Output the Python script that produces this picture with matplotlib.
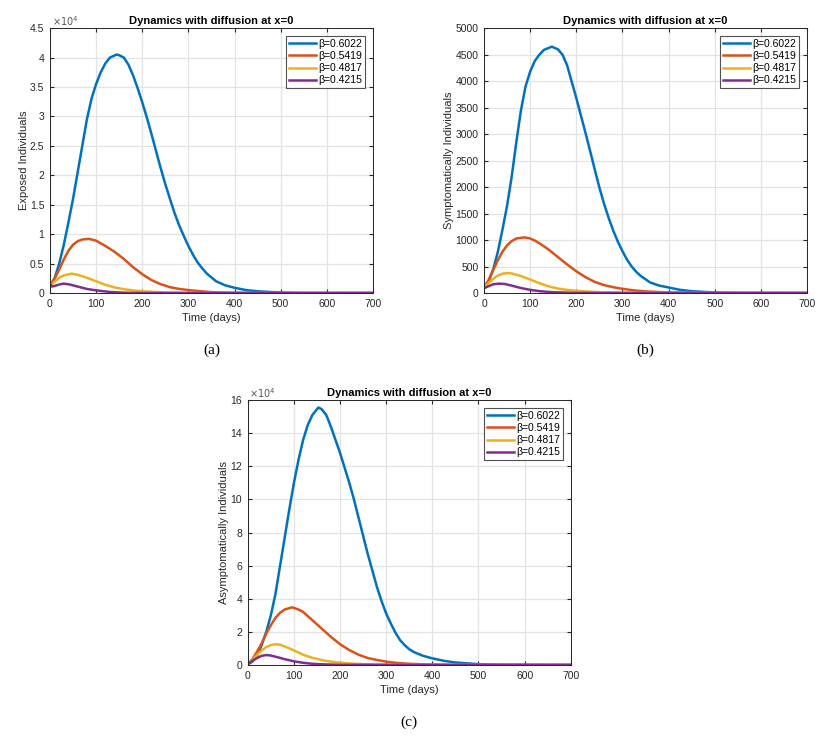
import matplotlib.pyplot as plt
from matplotlib.ticker import FormatStrFormatter

plt.rcParams['font.family'] = ['Liberation Sans', 'DejaVu Sans']

labels = ['β=0.6022', 'β=0.5419', 'β=0.4817', 'β=0.4215']
colors = ['#0072BD', '#D95319', '#EDB120', '#7E2F8E']

# (a) exposed, units of 1e4
ta_blue = [0, 10, 20, 30, 40, 50, 60, 70, 80, 90, 100, 110, 120, 130, 144, 150, 160, 170, 180, 190, 200,
           210, 220, 230, 240, 250, 260, 270, 280, 290, 300, 310, 320, 330, 340, 360, 380, 400, 425, 450,
           500, 550, 700]
ea_blue = [0.12, 0.25, 0.5, 0.82, 1.2, 1.6, 2.05, 2.5, 2.95, 3.3, 3.55, 3.75, 3.9, 4.0, 4.05, 4.04, 4.0,
           3.88, 3.7, 3.48, 3.24, 2.98, 2.7, 2.41, 2.12, 1.85, 1.6, 1.36, 1.15, 0.97, 0.8, 0.65, 0.52,
           0.42, 0.33, 0.2, 0.13, 0.09, 0.05, 0.03, 0.008, 0.0, 0.0]
ta_orange = [0, 10, 20, 30, 40, 50, 60, 70, 85, 100, 120, 140, 160, 180, 200, 220, 240, 260, 280, 300,
             350, 400, 450, 700]
ea_orange = [0.12, 0.24, 0.4, 0.57, 0.72, 0.82, 0.88, 0.91, 0.92, 0.89, 0.8, 0.7, 0.58, 0.44, 0.32,
             0.22, 0.15, 0.1, 0.07, 0.05, 0.015, 0.004, 0.0, 0.0]
ta_yellow = [0, 10, 20, 30, 47, 60, 80, 100, 120, 140, 160, 180, 200, 250, 300, 700]
ea_yellow = [0.12, 0.19, 0.26, 0.3, 0.33, 0.31, 0.26, 0.2, 0.14, 0.095, 0.065, 0.045, 0.03, 0.01, 0.002, 0.0]
ta_purple = [0, 4, 10, 20, 29, 40, 60, 80, 100, 130, 160, 200, 700]
ea_purple = [0.16, 0.11, 0.12, 0.145, 0.16, 0.15, 0.11, 0.07, 0.045, 0.018, 0.006, 0.001, 0.0]

# (b) symptomatic
tb_blue = [0, 10, 20, 30, 40, 50, 60, 70, 80, 90, 100, 110, 120, 130, 147, 160, 170, 180, 190, 200, 210,
           220, 230, 240, 250, 260, 270, 280, 290, 300, 310, 320, 330, 340, 360, 380, 400, 425, 450, 500,
           550, 700]
sb_blue = [100, 220, 450, 780, 1200, 1650, 2200, 2850, 3450, 3900, 4180, 4380, 4500, 4590, 4650, 4600,
           4500, 4300, 3990, 3680, 3350, 3020, 2680, 2330, 1990, 1690, 1420, 1180, 970, 790, 630, 500,
           400, 320, 200, 140, 105, 60, 35, 10, 2, 0]
tb_orange = [0, 10, 20, 30, 40, 50, 60, 70, 88, 100, 110, 120, 140, 160, 180, 200, 220, 240, 260, 280,
             300, 320, 350, 400, 450, 700]
sb_orange = [100, 250, 440, 620, 780, 900, 980, 1030, 1050, 1030, 990, 940, 820, 680, 540, 410, 300, 210,
             150, 110, 80, 55, 30, 10, 3, 0]
tb_yellow = [0, 10, 20, 30, 40, 51, 60, 80, 100, 120, 140, 160, 180, 200, 250, 300, 700]
sb_yellow = [100, 190, 270, 330, 365, 377, 370, 320, 255, 185, 125, 85, 60, 42, 15, 5, 0]
tb_purple = [0, 10, 20, 33, 45, 60, 80, 100, 120, 150, 200, 700]
sb_purple = [90, 130, 165, 178, 170, 140, 95, 60, 35, 15, 3, 0]

# (c) asymptomatic, units of 1e4
tc_blue = [0, 10, 20, 30, 40, 50, 60, 70, 80, 90, 100, 110, 120, 130, 140, 153, 160, 170, 180, 190, 200,
           210, 220, 230, 240, 250, 260, 270, 280, 290, 300, 310, 320, 330, 340, 350, 360, 380, 400, 425,
           450, 500, 550, 700]
ac_blue = [0.05, 0.2, 0.55, 1.2, 2.0, 3.0, 4.3, 6.0, 7.7, 9.4, 11.0, 12.4, 13.6, 14.5, 15.1, 15.55, 15.45,
           15.1, 14.4, 13.6, 12.8, 11.9, 11.0, 10.0, 8.9, 7.8, 6.7, 5.7, 4.7, 3.85, 3.1, 2.5, 1.95, 1.5,
           1.2, 0.95, 0.78, 0.55, 0.4, 0.25, 0.15, 0.05, 0.01, 0.0]
tc_orange = [0, 10, 20, 30, 40, 50, 60, 70, 80, 96, 110, 120, 140, 160, 180, 200, 220, 240, 260, 280, 300,
             320, 350, 400, 450, 700]
ac_orange = [0.05, 0.35, 0.8, 1.3, 1.9, 2.4, 2.85, 3.15, 3.35, 3.48, 3.35, 3.2, 2.7, 2.2, 1.7, 1.25, 0.9,
             0.62, 0.42, 0.3, 0.2, 0.13, 0.07, 0.02, 0.005, 0.0]
tc_yellow = [0, 10, 20, 30, 40, 50, 59, 70, 80, 100, 120, 140, 160, 180, 200, 220, 250, 300, 700]
ac_yellow = [0.05, 0.3, 0.6, 0.88, 1.08, 1.2, 1.25, 1.22, 1.12, 0.88, 0.62, 0.43, 0.3, 0.2, 0.14, 0.09,
             0.05, 0.015, 0.0]
tc_purple = [0, 10, 20, 30, 40, 50, 60, 80, 100, 120, 140, 160, 200, 700]
ac_purple = [0.05, 0.25, 0.42, 0.55, 0.6, 0.57, 0.5, 0.35, 0.22, 0.13, 0.07, 0.04, 0.01, 0.0]

fig = plt.figure(figsize=(8.26, 7.4), dpi=100)


def panel(rect, series, ylabel, ylim, yticks, exp_text, letter):
    ax = fig.add_axes(rect)
    for (t, y), c, lab in zip(series, colors, labels):
        ax.plot(t, y, color=c, lw=1.8, label=lab)
    ax.set_xlim(0, 700)
    ax.set_ylim(*ylim)
    ax.set_xticks(range(0, 701, 100))
    ax.set_yticks(yticks)
    ax.yaxis.set_major_formatter(FormatStrFormatter('%g'))
    ax.grid(True, color='#e3e3e3', lw=0.9)
    ax.tick_params(direction='in', top=True, right=True, labelsize=7.5, colors='#262626', length=3, pad=4)
    for s in ax.spines.values():
        s.set_color('#262626')
        s.set_linewidth(0.7)
    ax.set_title('Dynamics with diffusion at x=0', fontsize=8, fontweight='bold', pad=3)
    ax.set_xlabel('Time (days)', fontsize=8, color='#262626', labelpad=3)
    ax.set_ylabel(ylabel, fontsize=8, color='#262626', labelpad=1)
    if exp_text:
        ax.text(0.005, 1.0, '$\\times10^{4}$', transform=ax.transAxes, fontsize=7, color='#555555',
                ha='left', va='bottom')
    leg = ax.legend(loc='upper right', fontsize=7.5, frameon=True, fancybox=False, handlelength=2.6,
                    handletextpad=0.2, borderpad=0.3, labelspacing=0.2, borderaxespad=0.75)
    leg.get_frame().set_edgecolor('#262626')
    leg.get_frame().set_linewidth(0.8)
    fig.text(rect[0] + rect[2] / 2, rect[1] - 0.077, letter, fontsize=11,
             family='Liberation Serif', ha='center', va='center')
    return ax


panel([0.0605, 0.604, 0.391, 0.358],
      [(ta_blue, ea_blue), (ta_orange, ea_orange), (ta_yellow, ea_yellow), (ta_purple, ea_purple)],
      'Exposed Individuals', (0, 4.5), [0, 0.5, 1, 1.5, 2, 2.5, 3, 3.5, 4, 4.5], True, '(a)')
panel([0.586, 0.604, 0.391, 0.358],
      [(tb_blue, sb_blue), (tb_orange, sb_orange), (tb_yellow, sb_yellow), (tb_purple, sb_purple)],
      'Symptomatically Individuals', (0, 5000), range(0, 5001, 500), False, '(b)')
panel([0.300, 0.1014, 0.391, 0.358],
      [(tc_blue, ac_blue), (tc_orange, ac_orange), (tc_yellow, ac_yellow), (tc_purple, ac_purple)],
      'Asymptomatically Individuals', (0, 16), range(0, 17, 2), True, '(c)')

plt.savefig('out.png', dpi=100)
